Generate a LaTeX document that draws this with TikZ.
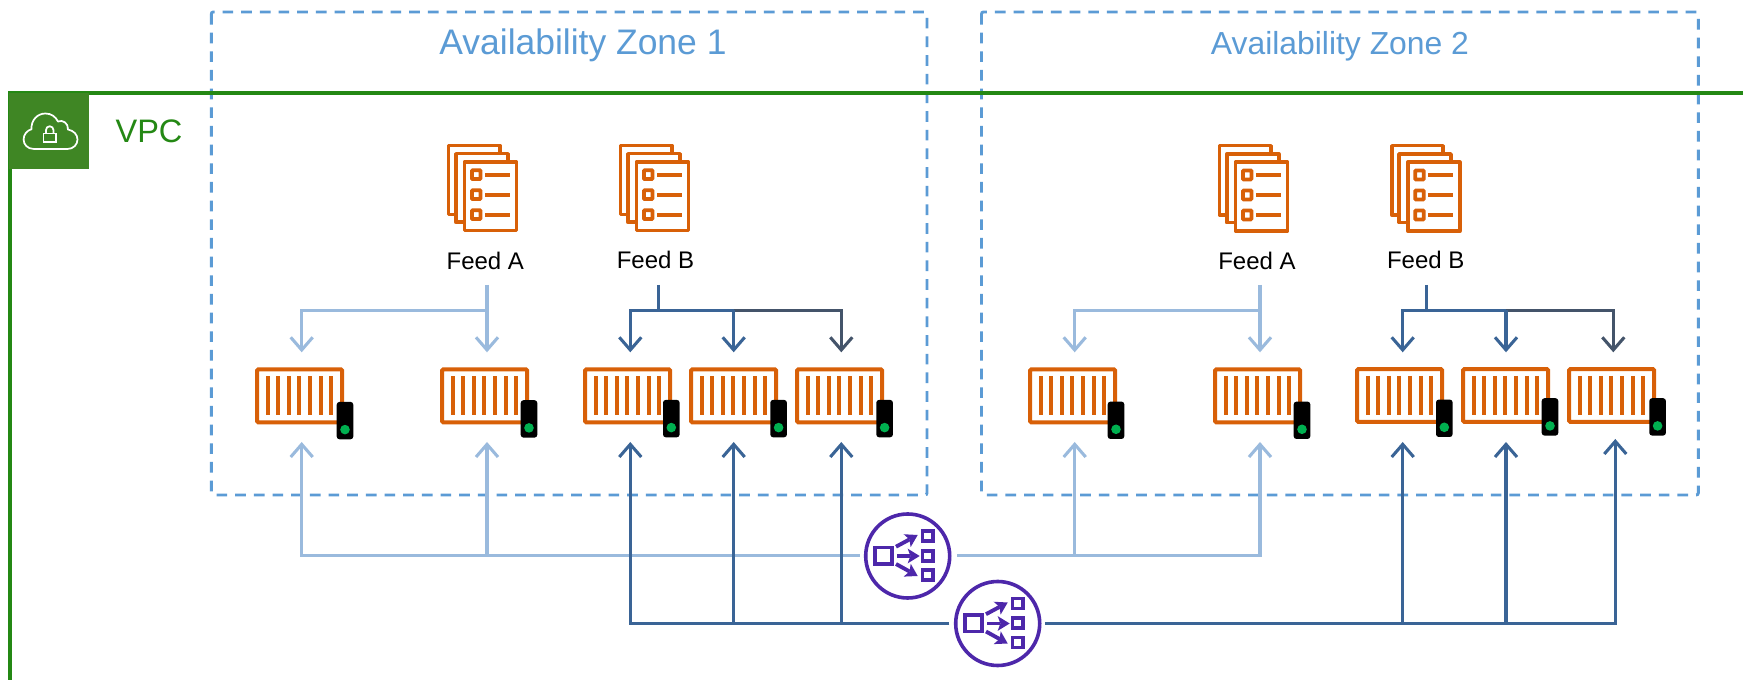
\documentclass[tikz,border=0pt]{standalone}
\usepackage{fontspec}
\setmainfont{Liberation Sans}
\usetikzlibrary{arrows.meta}
\definecolor{awsorange}{HTML}{D86008}
\definecolor{azblue}{HTML}{5B9BD5}
\definecolor{vpcgreen}{HTML}{248814}
\definecolor{vpcfill}{HTML}{3F8624}
\definecolor{feedlight}{HTML}{9ABADD}
\definecolor{feeddark}{HTML}{3A6496}
\definecolor{feedgrey}{HTML}{44546A}
\definecolor{lbpurple}{HTML}{4D27AA}
\definecolor{gogreen}{HTML}{00B050}
\newcommand{\pxfont}[1]{\fontsize{#1}{#1}\selectfont}
\tikzset{
  x=0.75pt,y=-0.75pt,
  azbox/.style={draw=azblue,line width=2.2pt,rounded corners=1.5pt,dash pattern=on 8pt off 6pt},
  azlabel/.style={text=azblue,inner sep=0pt,anchor=base},
  feedtext/.style={text=black,font=\pxfont{18pt},inner sep=0pt,anchor=base},
  orangeline/.style={draw=awsorange,line width=2.7pt},
  ctrbox/.style={draw=awsorange,line width=3pt,rounded corners=0.8pt,minimum width=63.6pt,minimum height=39.6pt,inner sep=0pt,outer sep=0pt},
  lightbox/.style={fill=black,rounded corners=2pt,minimum width=12.4pt,minimum height=28pt,inner sep=0pt,outer sep=0pt},
  lbcircle/.style={draw=lbpurple,fill=white,line width=2.7pt,circle,minimum size=63pt,inner sep=0pt,outer sep=0pt},
  tip/.style={-{Straight Barb[length=9.5pt,width=16.5pt,line width=2.3pt]}},
  flowlight/.style={draw=feedlight,line width=2.3pt},
  flowdark/.style={draw=feeddark,line width=2.3pt},
  flowgrey/.style={draw=feedgrey,line width=2.3pt},
  lbline/.style={draw=lbpurple,line width=2.9pt},
  lbarrow/.style={draw=lbpurple,line width=2.9pt,-{Stealth[length=9pt,width=11pt,inset=2pt,line width=0pt]}},
}
% name, left, top, light left, light top
\newcommand{\ctr}[5]{%
  \node[ctrbox] (#1) at ({#2+44.3},{#3+28.2}) {};
  \foreach \i in {0,...,6}
    \draw[draw=awsorange,line width=3.1pt] ({#2+12.3+10.6*\i},{#3+8.6}) -- ({#2+12.3+10.6*\i},{#3+47.8});
  \node[lightbox] (#1l) at ({#4+8.3},{#5+18.6}) {};
  \fill[gogreen] ({#4+8.3},{#5+27.6}) circle (3.6pt);
}
% left, top of the stack
\newcommand{\feedicon}[2]{%
  \begin{scope}[shift={(#1,#2)}]
    \draw[orangeline,line join=round] (53,8) -- (53,1.7) -- (1.7,1.7) -- (1.7,71) -- (8,71);
    \draw[orangeline,line join=round] (61,16.4) -- (61,10) -- (9,10) -- (9,78.6) -- (16,78.6);
    \draw[orangeline,line join=round] (17.7,18.3) rectangle (69.9,87);
    \foreach \yy in {31,51,71} {
      \draw[draw=awsorange,line width=2.8pt,rounded corners=0.6pt] (25.2,\yy-4.4) rectangle (33.8,\yy+4.4);
      \draw[draw=awsorange,line width=3pt] (38.4,\yy) -- (63.4,\yy);
    }
  \end{scope}
}
% icon inside a balancer
\newcommand{\lbicon}[1]{%
  \begin{scope}[shift={(#1)}]
    \draw[lbline] (-32.5,-8.5) rectangle (-15.5,8);
    \draw[lbline] (14.8,-25) rectangle (25,-15);
    \draw[lbline] (14.8,-5.2) rectangle (25,4.6);
    \draw[lbline] (14.8,14) rectangle (25,24);
    \draw[lbarrow] (-11.7,-9.3) -- (10,-21);
    \draw[lbarrow] (-10.3,0) -- (12,0);
    \draw[lbarrow] (-11.7,8) -- (10,20);
  \end{scope}
}
\begin{document}
\begin{tikzpicture}
\useasboundingbox (0,0) rectangle (1743,680);
\fill[white] (0,0) rectangle (1743,680);

% availability zones
\draw[azbox] (211.3,12) rectangle (927,495);
\draw[azbox] (981.5,12) rectangle (1698.3,495);
\node[azlabel,font=\pxfont{26.6pt}] (az1) at (583,55) {Availability Zone 1};
\node[azlabel,font=\pxfont{23.9pt}] (az2) at (1340,54.5) {Availability Zone 2};

% VPC
\coordinate (vpcright) at (1743,93);
\coordinate (vpccorner) at (10,93);
\coordinate (vpcbottom) at (10,680);
\draw[draw=vpcgreen,line width=2.6pt] (vpcright) -- (vpccorner) -- (vpcbottom);
\fill[vpcfill] (9,93) rectangle (89.3,169.5);
\draw[white,line width=1.3pt,line join=round]
  (34,149) .. controls (27.5,149) and (23.6,144.5) .. (23.6,139.5)
  .. controls (23.6,134.5) and (27,130.5) .. (31.5,129.2)
  .. controls (31,120) and (37.5,113.5) .. (45.5,113.5)
  .. controls (51,113.5) and (55.5,116.5) .. (58,121.5)
  .. controls (62.5,119.5) and (68.5,123) .. (68,129.5)
  .. controls (73.5,130.5) and (77.5,134.5) .. (77.5,139.5)
  .. controls (77.5,144.5) and (73.5,149) .. (67.5,149) -- cycle;
\draw[white,line width=1.3pt] (43.6,133.5) rectangle (56,142.2);
\draw[white,line width=1.3pt] (46,133.5) -- (46,130) arc[start angle=180,end angle=0,radius=2.8pt] -- (53.5,133.5);
\node[text=vpcgreen,font=\pxfont{24.4pt},inner sep=0pt,anchor=base] (vpc) at (149,143) {VPC};

% feeds
\feedicon{446.7}{143.7}
\feedicon{618.7}{143.7}
\feedicon{1217.7}{144}
\feedicon{1390}{144}
\node[feedtext] (fa1) at (485.3,269.5) {Feed A};
\node[feedtext] (fb1) at (655.5,268.5) {Feed B};
\node[feedtext] (fa2) at (1257,269.5) {Feed A};
\node[feedtext] (fb2) at (1425.7,268.5) {Feed B};

% containers
\ctr{c1}{255.3}{367.7}{336.7}{402}
\ctr{c2}{440.3}{367.7}{520.7}{400.3}
\ctr{c3}{583.3}{367.7}{663}{400}
\ctr{c4}{689.3}{367.7}{770.3}{400}
\ctr{c5}{795.3}{367.7}{876.3}{400}
\ctr{c6}{1028.3}{367.7}{1107.7}{401.7}
\ctr{c7}{1213.3}{367.7}{1293.7}{401.7}
\ctr{c8}{1355.3}{367.3}{1436}{399.7}
\ctr{c9}{1461.3}{367.3}{1541.7}{398.3}
\ctr{c10}{1567.3}{367.3}{1649.3}{398.3}

% feed connectors, top
\coordinate (sa1) at (487,285); \coordinate (ja1) at (487,310.7);
\coordinate (ta1) at (301.7,352.3); \coordinate (ta2) at (487,352.3);
\draw[flowlight,tip] (ja1) -| (ta1);
\draw[flowlight,tip] (sa1) -- (ta2);

\coordinate (sb1) at (658.3,285); \coordinate (jb1) at (658.3,310.3);
\coordinate (tb1) at (630.3,352.3); \coordinate (tb2) at (733.7,352.3); \coordinate (tb3) at (841.3,352.3);
\coordinate (mb1) at (733.7,310.3);
\draw[flowgrey,tip] (mb1) -| (tb3);
\draw[flowdark] (sb1) -- (jb1);
\draw[flowdark,tip] (mb1) -| (tb1);
\draw[flowdark,tip] (mb1) -- (tb2);

\coordinate (sa2) at (1260,285); \coordinate (ja2) at (1260,310.7);
\coordinate (ta3) at (1074.7,352.3); \coordinate (ta4) at (1260,352.3);
\draw[flowlight,tip] (ja2) -| (ta3);
\draw[flowlight,tip] (sa2) -- (ta4);

\coordinate (sb2) at (1426.3,285); \coordinate (jb2) at (1426.3,310.3);
\coordinate (tb4) at (1402.7,352.3); \coordinate (tb5) at (1506,352.3); \coordinate (tb6) at (1613.3,352.3);
\coordinate (mb2) at (1506,310.3);
\draw[flowgrey,tip] (mb2) -| (tb6);
\draw[flowdark] (sb2) -- (jb2);
\draw[flowdark,tip] (mb2) -| (tb4);
\draw[flowdark,tip] (mb2) -- (tb5);

% load balancers
\node[lbcircle] (lb1) at (907.7,556) {};
\node[lbcircle] (lb2) at (997.7,623.5) {};
\lbicon{lb1}
\lbicon{lb2}

% feed connectors, bottom
\coordinate (ua1) at (301.7,442); \coordinate (ua2) at (487,442);
\coordinate (ua3) at (1074.7,442); \coordinate (ua4) at (1260,442);
\coordinate (la) at (860,555.3); \coordinate (ra) at (957,555.3);
\draw[flowlight,tip] (la) -| (ua1);
\draw[flowlight,tip] (487,555.3) -- (ua2);
\draw[flowlight,tip] (ra) -| (ua4);
\draw[flowlight,tip] (1074.7,555.3) -- (ua3);

\coordinate (ub1) at (630.3,442); \coordinate (ub2) at (733.7,442); \coordinate (ub3) at (841.3,442);
\coordinate (ub4) at (1402.7,442); \coordinate (ub5) at (1506,442); \coordinate (ub6) at (1615.3,439);
\coordinate (lb) at (949.3,623.7); \coordinate (rb) at (1045,623.7);
\draw[flowdark,tip] (lb) -| (ub1);
\draw[flowdark,tip] (733.7,623.7) -- (ub2);
\draw[flowdark,tip] (841.3,623.7) -- (ub3);
\draw[flowdark,tip] (rb) -| (ub6);
\draw[flowdark,tip] (1402.7,623.7) -- (ub4);
\draw[flowdark,tip] (1506,623.7) -- (ub5);
\end{tikzpicture}
\end{document}
